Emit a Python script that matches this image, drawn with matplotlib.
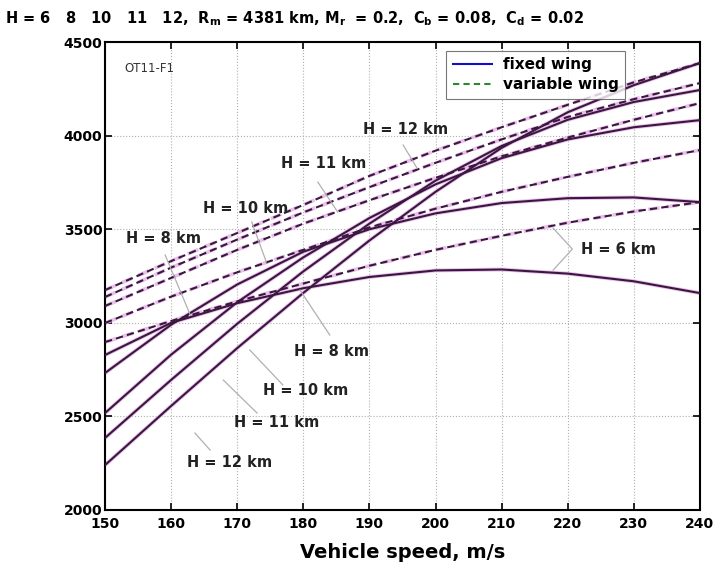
import matplotlib
matplotlib.use("Agg")
import matplotlib.pyplot as plt

plt.rcParams['font.family'] = ['DejaVu Sans']
plt.rcParams['font.weight'] = 'bold'
plt.rcParams['mathtext.fontset'] = 'custom'
plt.rcParams['mathtext.rm'] = 'DejaVu Sans:bold'
plt.rcParams['mathtext.it'] = 'DejaVu Sans:bold'
plt.rcParams['mathtext.bf'] = 'DejaVu Sans:bold'

# vehicle speed, m/s
speed = [150, 160, 170, 180, 190, 200, 210, 220, 230, 240]

# fixed wing (solid)
fix_h6 = [2828, 3000, 3105, 3185, 3245, 3280, 3285, 3263, 3222, 3159]
fix_h8 = [2732, 2990, 3205, 3380, 3500, 3585, 3640, 3666, 3670, 3645]
fix_h10 = [2518, 2830, 3110, 3350, 3560, 3740, 3880, 3980, 4045, 4083]
fix_h11 = [2385, 2695, 2995, 3275, 3530, 3760, 3945, 4085, 4180, 4244]
fix_h12 = [2240, 2556, 2865, 3160, 3440, 3700, 3935, 4125, 4270, 4388]

# variable wing (dashed)
var_h6 = [2897, 3010, 3115, 3210, 3305, 3390, 3465, 3535, 3595, 3645]
var_h8 = [2999, 3140, 3270, 3390, 3510, 3610, 3700, 3780, 3855, 3923]
var_h10 = [3090, 3240, 3390, 3530, 3655, 3775, 3890, 3990, 4085, 4174]
var_h11 = [3138, 3295, 3445, 3590, 3725, 3855, 3980, 4100, 4195, 4281]
var_h12 = [3175, 3330, 3480, 3630, 3785, 3920, 4045, 4165, 4285, 4388]

fixed = [fix_h6, fix_h8, fix_h10, fix_h11, fix_h12]
variable = [var_h6, var_h8, var_h10, var_h11, var_h12]

# curve labels: text, text position, pointer start, pointer end
labels = [
    ("H = 12 km", (195.5, 4035), (195.1, 3950), (197.2, 3827)),
    ("H = 11 km", (183.0, 3854), (182.2, 3752), (185.2, 3592)),
    ("H = 10 km", (171.2, 3613), (172.2, 3539), (174.4, 3325)),
    ("H = 8 km", (158.9, 3448), (159.1, 3362), (162.9, 3042)),
    ("H = 8 km", (184.2, 2849), (184.0, 2935), (179.5, 3175)),
    ("H = 10 km", (180.4, 2641), (176.9, 2668), (171.9, 2855)),
    ("H = 11 km", (176.0, 2465), (173.0, 2518), (167.9, 2694)),
    ("H = 12 km", (168.8, 2256), (165.9, 2320), (163.6, 2411)),
]

line_col = '#3a1640'
halo_col = '#e8c0e8'

fig = plt.figure(figsize=(7.15, 5.69), dpi=100)
ax = fig.add_axes([0.1469, 0.1037, 0.832, 0.8223])

for ys in fixed:
    ax.plot(speed, ys, color=halo_col, lw=2.8, zorder=2)
    ax.plot(speed, ys, color=line_col, lw=1.5, zorder=3)
for ys in variable:
    ax.plot(speed, ys, color=halo_col, lw=2.6, ls=(0, (3.2, 1.8)), zorder=2)
    ax.plot(speed, ys, color=line_col, lw=1.5, ls=(0, (3.5, 2.0)), zorder=3)

for txt, pos, p0, p1 in labels:
    ax.text(pos[0], pos[1], txt, ha='center', va='center', fontsize=10.5,
            fontweight='bold', color='#222222', zorder=5)
    ax.plot([p0[0], p1[0]], [p0[1], p1[1]], color='#b0b0b0', lw=0.9, zorder=4)

# H = 6 km bracket
ax.text(227.6, 3394, "H = 6 km", ha='center', va='center', fontsize=10.5,
        fontweight='bold', color='#222222', zorder=5)
ax.plot([217.8, 220.7, 217.8], [3506, 3394, 3282], color='#b0b0b0', lw=0.9, zorder=4)

ax.text(152.9, 4358, "OT11-F1", fontsize=8.5, fontweight='normal',
        ha='left', va='center', color='#333333')

# legend
h1, = ax.plot([], [], color='#1010c8', lw=1.5, label='fixed wing')
h2, = ax.plot([], [], color='#2a8a2a', lw=1.5, ls=(0, (3, 2)), label='variable wing')
leg = ax.legend(handles=[h1, h2], loc='upper right', bbox_to_anchor=(0.874, 0.981),
                fontsize=11, frameon=True, fancybox=False, borderpad=0.4,
                handlelength=2.6, handletextpad=0.7, labelspacing=0.35, borderaxespad=0)
leg.get_frame().set_edgecolor('#555555')
leg.get_frame().set_linewidth(0.8)

ax.set_xlim(150, 240)
ax.set_ylim(2000, 4500)
ax.set_xticks(range(150, 241, 10))
ax.set_yticks(range(2000, 4501, 500))
ax.grid(True, color='#b0b0b0', ls=':', lw=0.8)
ax.tick_params(direction='in', top=True, right=True, length=5, width=1.2,
               labelsize=10, pad=2)
ax.tick_params(axis='x', pad=5)
for s in ax.spines.values():
    s.set_linewidth(1.5)
ax.set_xlabel("Vehicle speed, m/s", fontsize=14, fontweight='bold', labelpad=9)

fig.text(0.007, 0.968,
         r"H = 6   8   10   11   12,  R$_m$ = 4381 km, M$_r$  = 0.2,  C$_b$ = 0.08,  C$_d$ = 0.02",
         fontsize=10.5, fontweight='bold', ha='left', va='center')

fig.savefig("out.png", dpi=100)
